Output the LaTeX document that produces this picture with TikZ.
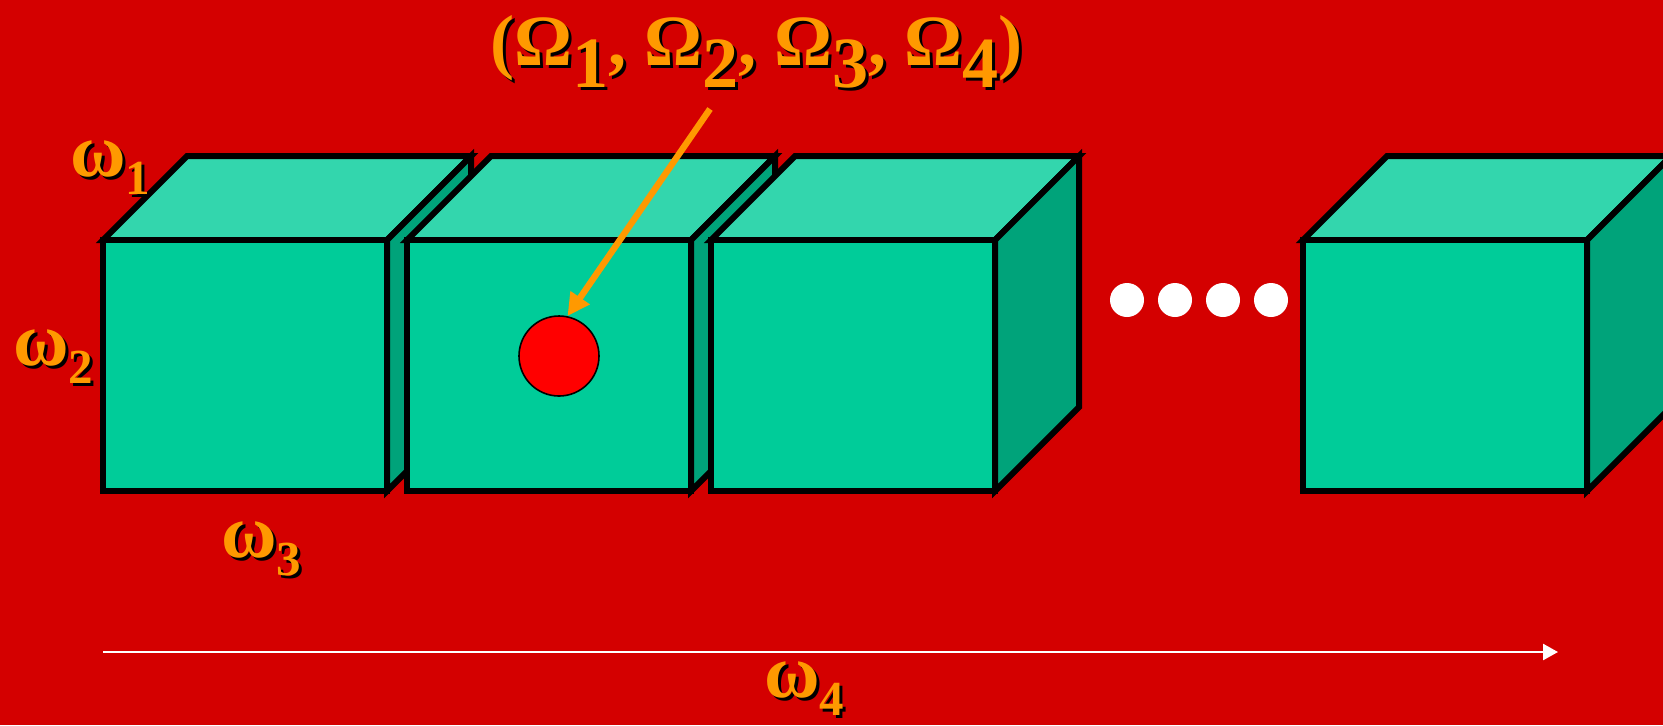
\documentclass[tikz,border=0pt]{standalone}
\usepackage{fontspec}
\setmainfont{Liberation Serif}
\usetikzlibrary{arrows.meta}
\definecolor{bgred}{RGB}{212,0,0}
\definecolor{cfront}{RGB}{0,204,153}
\definecolor{ctop}{RGB}{51,214,173}
\definecolor{cside}{RGB}{0,163,122}
\definecolor{lblorange}{RGB}{255,153,0}
\newcommand\lowsub[2]{\raisebox{-#1}{#2}}
\newcommand\bigsub[1]{\lowsub{11pt}{#1}}
\newcommand\smallsub[1]{\lowsub{9pt}{\fontsize{24.5}{26}\selectfont #1}}
% shadowed label: style, name, position, text
\newcommand\shlabel[4]{%
  \node[#1, text=black, xshift=1.5pt, yshift=-1.5pt] (#2-shadow) at (#3) {#4};
  \node[#1, text=lblorange] (#2) at (#3) {#4};}
\newcommand\cubeat[2]{%
  \begin{scope}[shift={(#2,0)}]
    \path[topface] (0,240) -- (84,156) -- (368,156) -- (284,240) -- cycle;
    \path[sideface] (284,240) -- (368,156) -- (368,407) -- (284,491) -- cycle;
    \path[frontface] (0,240) rectangle (284,491);
    \coordinate (#1) at (142,365);
  \end{scope}}
\begin{document}
\begin{tikzpicture}[x=0.5pt,y=-0.5pt,
  edge/.style={draw=black, line width=3pt, line join=miter},
  topface/.style={edge, fill=ctop},
  sideface/.style={edge, fill=cside},
  frontface/.style={edge, fill=cfront},
  titlelbl/.style={anchor=base west, inner sep=0pt, font=\bfseries\fontsize{36.1}{40}\selectfont},
  omlbl/.style={anchor=base west, inner sep=0pt, font=\bfseries\fontsize{38}{42}\selectfont},
  wdot/.style={circle, fill=white, minimum size=17pt, inner sep=0pt},
  pointer/.style={draw=lblorange, line width=3.2pt, -{Triangle[length=11.2pt,width=11pt]}},
  axis/.style={draw=white, line width=1.25pt, -{Triangle[length=7.5pt,width=8pt]}}]
\useasboundingbox (0,0) rectangle (1663,725);
\clip (0,0) rectangle (1663,725);
\fill[bgred] (0,0) rectangle (1663,725);

\cubeat{cube1}{103}
\cubeat{cube2}{407}
\cubeat{cube3}{711}
\cubeat{cube4}{1303}

\node[circle, fill=red, draw=black, line width=0.8pt, minimum size=40pt, inner sep=0pt] (point) at (559,356) {};

\node[wdot] (dot1) at (1127,300) {};
\node[wdot] (dot2) at (1175,300) {};
\node[wdot] (dot3) at (1223,300) {};
\node[wdot] (dot4) at (1271,300) {};

\shlabel{titlelbl}{title}{490,65}{(Ω\bigsub{1}, Ω\bigsub{2}, Ω\bigsub{3}, Ω\bigsub{4})}
\shlabel{omlbl}{w1}{70,176}{ω\smallsub{1}}
\shlabel{omlbl}{w2}{13,365}{ω\smallsub{2}}
\shlabel{omlbl}{w3}{221,557}{ω\smallsub{3}}
\shlabel{omlbl}{w4}{764,697}{ω\smallsub{4}}

\coordinate (ptrstart) at (710,109);
\draw[pointer] (ptrstart) -- (point.78);

\coordinate (axstart) at (103,652);
\coordinate (axend) at (1558,652);
\draw[axis] (axstart) -- (axend);
\end{tikzpicture}
\end{document}
